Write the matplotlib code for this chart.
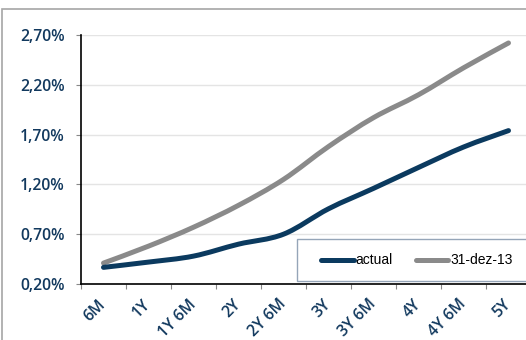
import matplotlib
matplotlib.use("Agg")
import matplotlib.pyplot as plt
from matplotlib.path import Path
from matplotlib.patches import PathPatch, Rectangle
from matplotlib.lines import Line2D
import numpy as np

categories = ["6M", "1Y", "1Y 6M", "2Y", "2Y 6M", "3Y", "3Y 6M", "4Y", "4Y 6M", "5Y"]
actual = [0.367, 0.42, 0.48, 0.60, 0.70, 0.955, 1.16, 1.37, 1.575, 1.74]
dez13 = [0.41, 0.58, 0.77, 0.99, 1.25, 1.58, 1.87, 2.10, 2.37, 2.62]
yticks = [0.20, 0.70, 1.20, 1.70, 2.20, 2.70]
series_names = ["actual", "31-dez-13"]

NAVY = "#0b3a5f"
GRAY = "#8a8a8a"
LABEL = "#12395e"
TICKFONT = "Open Sans"

W, H = 526, 340
fig = plt.figure(figsize=(W / 100, H / 100), dpi=100)
fig.patch.set_facecolor("white")

# outer chart border (cropped at right/bottom)
fig.patches.append(Rectangle((2 / W, -0.1), 1.2, 1 - 9 / H + 0.1, transform=fig.transFigure,
                             fill=False, edgecolor="#a6a6a6", lw=1.2, zorder=0))

left, right, bottom, top = 81 / W, 531 / W, 1 - 284 / H, 1 - 35 / H
ax = fig.add_axes([left, bottom, right - left, top - bottom])
ax.set_facecolor("none")

x = np.arange(len(categories))


def smooth_path(xs, ys):
    pts = np.column_stack([xs, ys])
    n = len(pts)
    verts = [pts[0]]
    codes = [Path.MOVETO]
    for i in range(n - 1):
        p0 = pts[i - 1] if i > 0 else pts[i]
        p1 = pts[i]
        p2 = pts[i + 1]
        p3 = pts[i + 2] if i + 2 < n else pts[i + 1]
        c1 = p1 + (p2 - p0) / 6
        c2 = p2 - (p3 - p1) / 6
        verts += [c1, c2, p2]
        codes += [Path.CURVE4] * 3
    return Path(verts, codes)


for ys, col in [(dez13, GRAY), (actual, NAVY)]:
    patch = PathPatch(smooth_path(x, ys), fill=False, edgecolor=col, lw=3.6,
                      capstyle="round", joinstyle="round", zorder=3)
    ax.add_patch(patch)

ax.set_xlim(-0.5, len(categories) - 0.5)
ax.set_ylim(0.2, 2.7)
ax.set_yticks(yticks)
ax.set_yticklabels([f"{v:.2f}%".replace(".", ",") for v in yticks],
                   family=TICKFONT, fontsize=11.3, weight="semibold", color=LABEL)
ax.grid(axis="y", color="#e4e4e4", lw=1)
ax.set_axisbelow(True)

ax.set_xticks(x)
ax.set_xticklabels(categories, rotation=45, ha="right", va="center",
                   rotation_mode="anchor", family=TICKFONT, fontsize=11.3,
                   weight="semibold", color=LABEL)
ax.set_xticks(np.arange(len(categories) + 1) - 0.5, minor=True)
ax.tick_params(axis="x", which="major", length=0, pad=13)
ax.tick_params(axis="x", which="minor", length=3.6, width=0.8, color="#888888", direction="out")
ax.tick_params(axis="y", length=3.6, width=0.8, color="#888888", pad=8)

for s in ["top", "right"]:
    ax.spines[s].set_visible(False)
for s in ["left", "bottom"]:
    ax.spines[s].set_color("black")
    ax.spines[s].set_linewidth(1.2)

# legend (manual, extends past the right edge like the reference)
fig.patches.append(Rectangle((297 / W, 1 - 281 / H), 0.5, 42 / H, transform=fig.transFigure,
                             facecolor="white", edgecolor="#95a5b8", lw=1.0, zorder=5))
ly = 1 - 260 / H
for (x0, x1, tx), name, col in zip([(321, 354, 355), (416, 448, 450)], series_names, [NAVY, GRAY]):
    fig.add_artist(Line2D([x0 / W, x1 / W], [ly, ly], transform=fig.transFigure, color=col,
                          lw=3.6, solid_capstyle="round", zorder=6))
    fig.text(tx / W, ly, name, ha="left", va="center", fontsize=10,
             family="Liberation Sans", color="black", zorder=6)

fig.savefig("out.png", dpi=100, facecolor="white")
